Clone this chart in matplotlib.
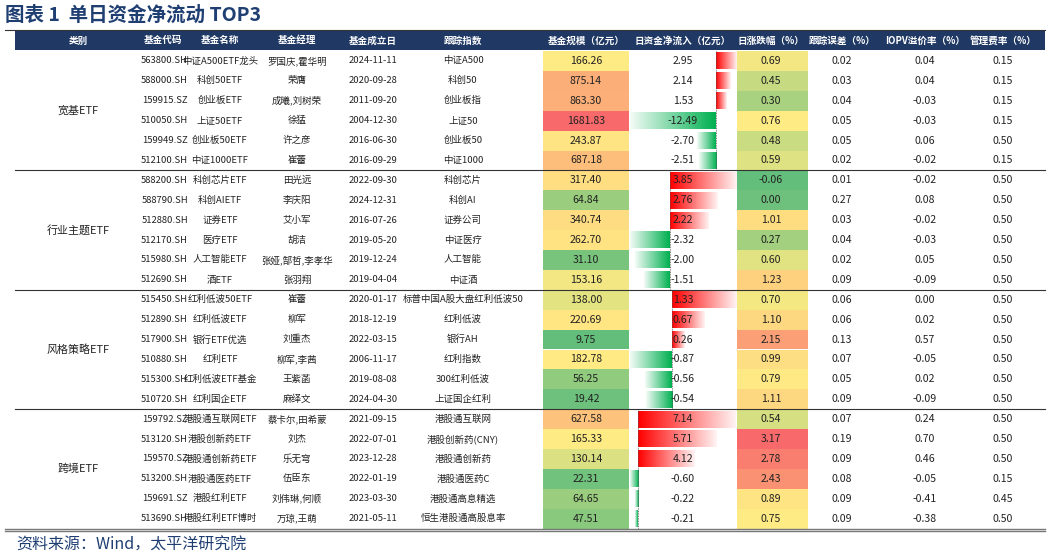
import numpy as np
import matplotlib
matplotlib.use("Agg")
import matplotlib.pyplot as plt
from matplotlib.colors import to_rgb

plt.rcParams["font.family"] = ["Noto Sans CJK SC", "DejaVu Sans"]

headers = ["类别", "基金代码", "基金名称", "基金经理", "基金成立日", "跟踪指数",
           "基金规模（亿元）", "日资金净流入（亿元）", "日涨跌幅（%）", "跟踪误差（%）",
           "IOPV溢价率（%）", "管理费率（%）"]
groups = ["宽基ETF", "行业主题ETF", "风格策略ETF", "跨境ETF"]
codes = ["563800.SH", "588000.SH", "159915.SZ", "510050.SH", "159949.SZ", "512100.SH",
         "588200.SH", "588790.SH", "512880.SH", "512170.SH", "515980.SH", "512690.SH",
         "515450.SH", "512890.SH", "517900.SH", "510880.SH", "515300.SH", "510720.SH",
         "159792.SZ", "513120.SH", "159570.SZ", "513200.SH", "159691.SZ", "513690.SH"]
names = ["中证A500ETF龙头", "科创50ETF", "创业板ETF", "上证50ETF", "创业板50ETF", "中证1000ETF",
         "科创芯片ETF", "科创AIETF", "证券ETF", "医疗ETF", "人工智能ETF", "酒ETF",
         "红利低波50ETF", "红利低波ETF", "银行ETF优选", "红利ETF", "红利低波ETF基金", "红利国企ETF",
         "港股通互联网ETF", "港股创新药ETF", "港股通创新药ETF", "港股通医药ETF", "港股红利ETF", "港股红利ETF博时"]
managers = ["罗国庆,霍华明", "荣膺", "成曦,刘树荣", "徐猛", "许之彦", "崔蕾",
            "田光远", "李庆阳", "艾小军", "胡洁", "张娅,郜哲,李孝华", "张羽翔",
            "崔蕾", "柳军", "刘重杰", "柳军,李茜", "王紫菡", "麻绎文",
            "蔡卡尔,田希蒙", "刘杰", "乐无穹", "伍臣东", "刘伟琳,何顺", "万琼,王萌"]
dates = ["2024-11-11", "2020-09-28", "2011-09-20", "2004-12-30", "2016-06-30", "2016-09-29",
         "2022-09-30", "2024-12-31", "2016-07-26", "2019-05-20", "2019-12-24", "2019-04-04",
         "2020-01-17", "2018-12-19", "2022-03-15", "2006-11-17", "2019-08-08", "2024-04-30",
         "2021-09-15", "2022-07-01", "2023-12-28", "2022-01-19", "2023-03-30", "2021-05-11"]
indices = ["中证A500", "科创50", "创业板指", "上证50", "创业板50", "中证1000",
           "科创芯片", "科创AI", "证券公司", "中证医疗", "人工智能", "中证酒",
           "标普中国A股大盘红利低波50", "红利低波", "银行AH", "红利指数", "300红利低波", "上证国企红利",
           "港股通互联网", "港股创新药(CNY)", "港股通创新药", "港股通医药C", "港股通高息精选", "恒生港股通高股息率"]
size = [166.26, 875.14, 863.30, 1681.83, 243.87, 687.18,
        317.40, 64.84, 340.74, 262.70, 31.10, 153.16,
        138.00, 220.69, 9.75, 182.78, 56.25, 19.42,
        627.58, 165.33, 130.14, 22.31, 64.65, 47.51]
flow = [2.95, 2.14, 1.53, -12.49, -2.70, -2.51,
        3.85, 2.76, 2.22, -2.32, -2.00, -1.51,
        1.33, 0.67, 0.26, -0.87, -0.56, -0.54,
        7.14, 5.71, 4.12, -0.60, -0.22, -0.21]
chg = [0.69, 0.45, 0.30, 0.76, 0.48, 0.59,
       -0.06, 0.00, 1.01, 0.27, 0.60, 1.23,
       0.70, 1.10, 2.15, 0.99, 0.79, 1.11,
       0.54, 3.17, 2.78, 2.43, 0.89, 0.75]
terr = [0.02, 0.03, 0.04, 0.05, 0.05, 0.02,
        0.01, 0.27, 0.03, 0.04, 0.02, 0.09,
        0.06, 0.06, 0.13, 0.07, 0.05, 0.09,
        0.07, 0.19, 0.09, 0.08, 0.09, 0.09]
iopv = [0.04, 0.04, -0.03, -0.03, 0.06, -0.02,
        -0.02, 0.08, -0.02, -0.03, 0.05, -0.09,
        0.00, 0.02, 0.57, -0.05, 0.02, -0.09,
        0.24, 0.70, 0.46, -0.05, -0.41, -0.38]
fee = [0.15, 0.15, 0.15, 0.15, 0.50, 0.15,
       0.50, 0.50, 0.50, 0.50, 0.50, 0.50,
       0.50, 0.50, 0.50, 0.50, 0.50, 0.50,
       0.50, 0.50, 0.50, 0.15, 0.45, 0.50]

W, H = 1054, 559
fig = plt.figure(figsize=(W / 100, H / 100), dpi=100)
ax = fig.add_axes([0, 0, 1, 1])
ax.set_xlim(0, W)
ax.set_ylim(H, 0)
ax.axis("off")

navy = "#1F3864"
cx = [78, 163, 220, 297, 373, 463, 586, 683, 771, 842, 925, 1003]
top_h, bot_h = 31, 50
row0, rh = 51, 19.9
fs = 7.6
fs_s = 6.8

# header
ax.add_patch(plt.Rectangle((15, top_h), 1030, bot_h - top_h, color=navy, lw=0))
ax.plot([5, 1045], [top_h - 1, top_h - 1], color="#333333", lw=0.8)
for x, h in zip(cx, headers):
    ax.text(x, (top_h + bot_h) / 2, h, color="white", fontsize=6.9, fontweight="bold",
            ha="center", va="center")

def scale3(vals):
    g, y, r = np.array(to_rgb("#63BE7B")), np.array(to_rgb("#FFEB84")), np.array(to_rgb("#F8696B"))
    lo, mid, hi = min(vals), np.percentile(vals, 50), max(vals)
    out = []
    for v in vals:
        if v <= mid:
            t = (v - lo) / (mid - lo)
            out.append(g + (y - g) * t)
        else:
            t = (v - mid) / (hi - mid)
            out.append(y + (r - y) * t)
    return out

size_c = scale3(size)
chg_c = scale3(chg)

bar_x0, bar_x1 = 630, 736
n = len(codes)
for i in range(n):
    yt = row0 + i * rh
    yc = yt + rh / 2
    ax.add_patch(plt.Rectangle((543, yt), 86, rh, color=size_c[i], lw=0))
    ax.add_patch(plt.Rectangle((737, yt), 71, rh, color=chg_c[i], lw=0))
    g = i // 6
    gv = flow[g * 6:(g + 1) * 6]
    lo, hi = min(min(gv), 0), max(max(gv), 0)
    zero = bar_x0 + (bar_x1 - bar_x0) * (-lo) / (hi - lo)
    xe = bar_x0 + (bar_x1 - bar_x0) * (flow[i] - lo) / (hi - lo)
    grad = np.linspace(0, 1, 64)
    if flow[i] >= 0:
        base = np.array(to_rgb("#FF0000"))
        ext = (zero, xe)
    else:
        base = np.array(to_rgb("#00B050"))
        ext = (xe, zero)
        grad = grad[::-1]
    img = np.zeros((1, 64, 3))
    for k in range(3):
        img[0, :, k] = base[k] + (1 - base[k]) * grad * 0.95
    ax.imshow(img, extent=(ext[0], ext[1], yt + rh - 1.5, yt + 1.5), aspect="auto",
              interpolation="bilinear", zorder=2)
    ax.plot([zero, zero], [yt, yt + rh], color="#555555", lw=0.6, ls=(0, (1, 1)), zorder=3)
    ax.text(188, yc, codes[i], fontsize=fs_s, ha="right", va="center", color="#222222")
    sm = [names[i], managers[i], dates[i], indices[i]]
    for x, v in zip(cx[2:6], sm):
        ax.text(x, yc, v, fontsize=fs_s, ha="center", va="center", color="#222222", zorder=4)
    nums = [f"{size[i]:.2f}", f"{flow[i]:.2f}", f"{chg[i]:.2f}", f"{terr[i]:.2f}",
            f"{iopv[i]:.2f}", f"{fee[i]:.2f}"]
    for x, v in zip(cx[6:], nums):
        ax.text(x, yc, v, fontsize=fs, ha="center", va="center", color="#222222", zorder=4)

for g, name in enumerate(groups):
    yc = row0 + (g * 6 + 3) * rh
    ax.text(cx[0], yc, name, fontsize=fs + 0.3, ha="center", va="center", color="#222222")
    if g > 0:
        ys = row0 + g * 6 * rh
        ax.plot([15, 1045], [ys, ys], color="#333333", lw=0.8, zorder=5)
yb = row0 + n * rh
ax.plot([5, 1045], [yb, yb], color="#777777", lw=1.0, zorder=5)
ax.plot([5, 1045], [yb + 2.5, yb + 2.5], color="#777777", lw=1.0, zorder=5)

ax.text(5, 15, "图表 1  单日资金净流动 TOP3", fontsize=14, fontweight="bold", color="#1F3F73",
        ha="left", va="center")
ax.text(16, 545, "资料来源：Wind，太平洋研究院", fontsize=11.5, color="#1F3F73", ha="left", va="center")

fig.savefig("out.png", dpi=100)
